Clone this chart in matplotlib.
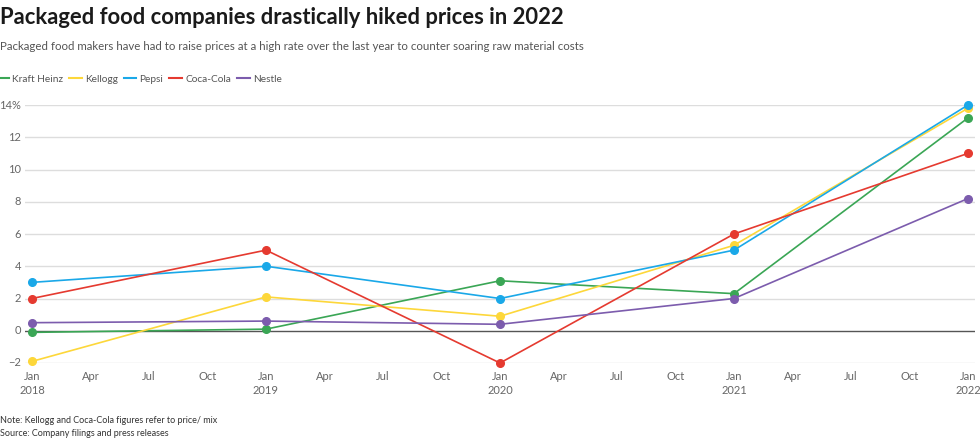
import matplotlib
matplotlib.use("Agg")
import matplotlib.pyplot as plt
from matplotlib.lines import Line2D

plt.rcParams["font.family"] = ["Lato", "DejaVu Sans"]

# months since Jan 2018
months = [0, 12, 24, 36, 48]
companies = ["Kraft Heinz", "Kellogg", "Pepsi", "Coca-Cola", "Nestle"]
kraft_heinz = [-0.1, 0.1, 3.1, 2.3, 13.2]
kellogg = [-1.9, 2.1, 0.9, 5.3, 13.8]
pepsi = [3.0, 4.0, 2.0, 5.0, 14.0]
coca_cola = [2.0, 5.0, -2.0, 6.0, 11.0]
nestle = [0.5, 0.6, 0.4, 2.0, 8.2]
yticks = [-2, 0, 2, 4, 6, 8, 10, 12, 14]
ytick_labels = ["\u22122", "0", "2", "4", "6", "8", "10", "12", "14%"]

COLORS = {
    "Kraft Heinz": "#3aa655",
    "Kellogg": "#fdd73a",
    "Pepsi": "#1aa8e8",
    "Coca-Cola": "#e53a30",
    "Nestle": "#7c5cad",
}
series = dict(zip(companies, [kraft_heinz, kellogg, pepsi, coca_cola, nestle]))

fig = plt.figure(figsize=(9.8, 4.4), dpi=100)
ax = fig.add_axes([25 / 980, 1 - 363 / 440, 950 / 980, 258 / 440])

for name in companies:
    ax.plot(months, series[name], color=COLORS[name], linewidth=1.2,
            marker="o", markersize=5.5, clip_on=False, zorder=3)

ax.set_xlim(-7 / 19.5, 48 + 7 / 19.5)
ax.set_ylim(-2, 14)
ax.set_yticks(yticks)
ax.set_yticklabels(ytick_labels)
for y in yticks:
    if y == 0:
        ax.axhline(y, color="#555555", linewidth=1.0, zorder=2)
    else:
        ax.axhline(y, color="#dddddd", linewidth=1.0, zorder=1)

xt = list(range(0, 49, 3))
xl = []
for m in xt:
    mon = ["Jan", "Apr", "Jul", "Oct"][(m % 12) // 3]
    if m % 12 == 0:
        mon += "\n" + str(2018 + m // 12)
    xl.append(mon)
ax.set_xticks(xt)
ax.set_xticklabels(xl, linespacing=1.25)

ax.tick_params(axis="both", length=0, labelsize=8, colors="#666666")
ax.tick_params(axis="x", pad=6)
ax.tick_params(axis="y", pad=3)
for lab in ax.get_yticklabels():
    lab.set_verticalalignment("center")
for s in ax.spines.values():
    s.set_visible(False)

fig.text(0.0, 1 - 18 / 440, "Packaged food companies drastically hiked prices in 2022",
         fontsize=15.8, fontweight="bold", color="#1a1a1a", va="center")
fig.text(0.0, 1 - 47 / 440,
         "Packaged food makers have had to raise prices at a high rate over the last year to counter soaring raw material costs",
         fontsize=8.3, color="#555555", va="center")

handles = [Line2D([0], [0], color=COLORS[c], linewidth=1.5) for c in companies]
fig.legend(handles, companies, loc="center left", bbox_to_anchor=(-0.004, 1 - 79 / 440),
           ncol=5, frameon=False, handlelength=1.25, handletextpad=0.3,
           columnspacing=0.6, fontsize=7.3, labelcolor="#555555",
           borderaxespad=0, borderpad=0)

fig.text(0.0, 1 - 420 / 440, "Note: Kellogg and Coca-Cola figures refer to price/ mix",
         fontsize=6.5, color="#333333", va="center")
fig.text(0.0, 1 - 433 / 440, "Source: Company filings and press releases",
         fontsize=6.5, color="#333333", va="center")

fig.savefig("out.png", dpi=100)
